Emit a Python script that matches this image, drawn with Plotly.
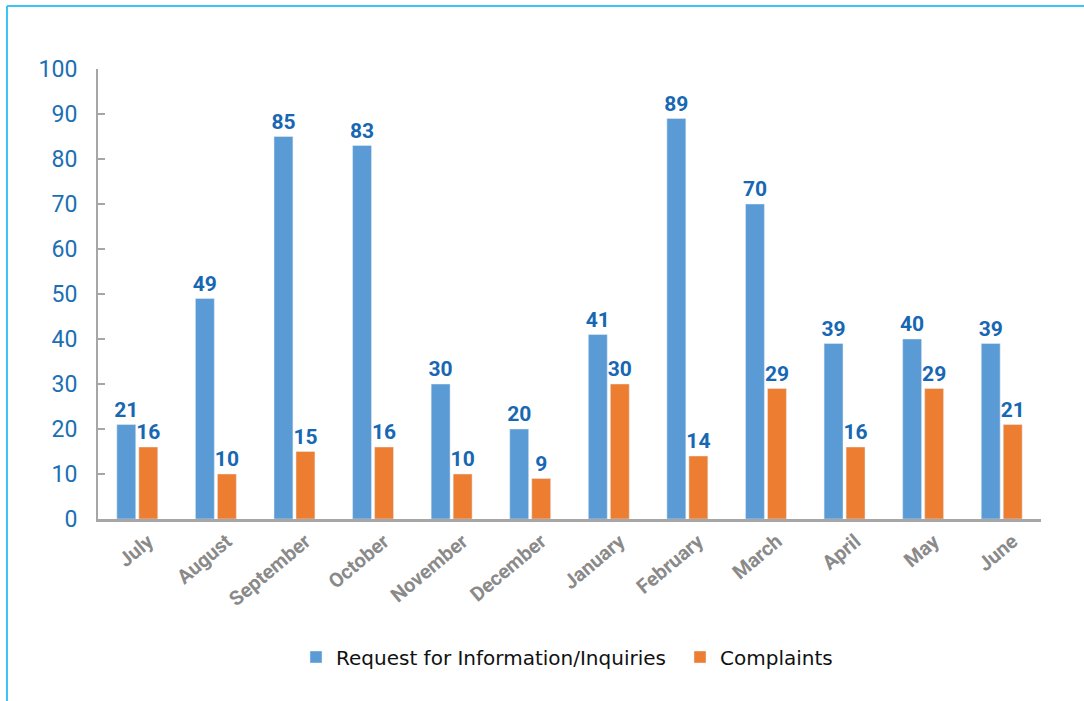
import plotly.graph_objects as go

months = ["July", "August", "September", "October", "November", "December",
          "January", "February", "March", "April", "May", "June"]
inquiries = [21, 49, 85, 83, 30, 20, 41, 89, 70, 39, 40, 39]
complaints = [16, 10, 15, 16, 10, 9, 30, 14, 29, 16, 29, 21]
y_ticks = [0, 10, 20, 30, 40, 50, 60, 70, 80, 90, 100]

W, H = 1084, 701
ML, MR, MT, MB = 98, 43, 69, 182
PW, PH = W - ML - MR, H - MT - MB

def px_x(p):
    return (p - ML) / PW

def px_y(p):
    return (H - MB - p) / PH

label_font = dict(family="Roboto", size=21, color="#1767b3", weight="bold")
legend_font = dict(family="DejaVu Sans", size=20, color="#111111")

fig = go.Figure()
fig.add_trace(go.Bar(
    x=months, y=inquiries, name="Request for Information/Inquiries",
    marker_color="#5b9bd5", text=inquiries, textposition="outside",
    textfont=label_font, cliponaxis=False, constraintext="none",
    legend="legend", showlegend=True,
))
fig.add_trace(go.Bar(
    x=months, y=complaints, name="Complaints",
    marker_color="#ed7d31", text=complaints, textposition="outside",
    textfont=label_font, cliponaxis=False, constraintext="none",
    legend="legend2", showlegend=True,
))

fig.update_layout(
    width=W, height=H,
    margin=dict(l=ML, r=MR, t=MT, b=MB),
    paper_bgcolor="white", plot_bgcolor="white",
    barmode="group", bargap=0.44, bargroupgap=0.14,
    font=dict(family="Roboto"),
    showlegend=True,
    legend=dict(visible=True, orientation="v", x=px_x(296), xanchor="left",
                y=px_y(657), yanchor="middle", bgcolor="rgba(0,0,0,0)",
                font=legend_font, itemwidth=30),
    legend2=dict(visible=True, orientation="v", x=px_x(680), xanchor="left",
                 y=px_y(657), yanchor="middle", bgcolor="rgba(0,0,0,0)",
                 font=legend_font, itemwidth=30),
    shapes=[
        dict(type="line", xref="paper", yref="paper",
             x0=px_x(7), x1=px_x(7), y0=px_y(6), y1=px_y(701),
             line=dict(color="#3cc4f2", width=2)),
        dict(type="line", xref="paper", yref="paper",
             x0=px_x(7), x1=px_x(1084), y0=px_y(6), y1=px_y(6),
             line=dict(color="#3cc4f2", width=2)),
    ],
)
fig.update_xaxes(
    showline=True, linecolor="#a6a6a6", linewidth=3,
    tickangle=-40, ticks="", ticklabelshift=11,
    tickfont=dict(family="Roboto", size=20, color="#8a8a8a", weight="bold"),
    showgrid=False,
)
fig.update_yaxes(
    range=[0, 100], tickvals=y_ticks,
    showline=True, linecolor="#a6a6a6", linewidth=2,
    ticks="inside", ticklen=7, tickwidth=2, tickcolor="#a6a6a6",
    tickfont=dict(family="Roboto", size=23, color="#1a6fb5"),
    showgrid=False, zeroline=False, ticklabelstandoff=14,
)

fig.write_html("out.html")
